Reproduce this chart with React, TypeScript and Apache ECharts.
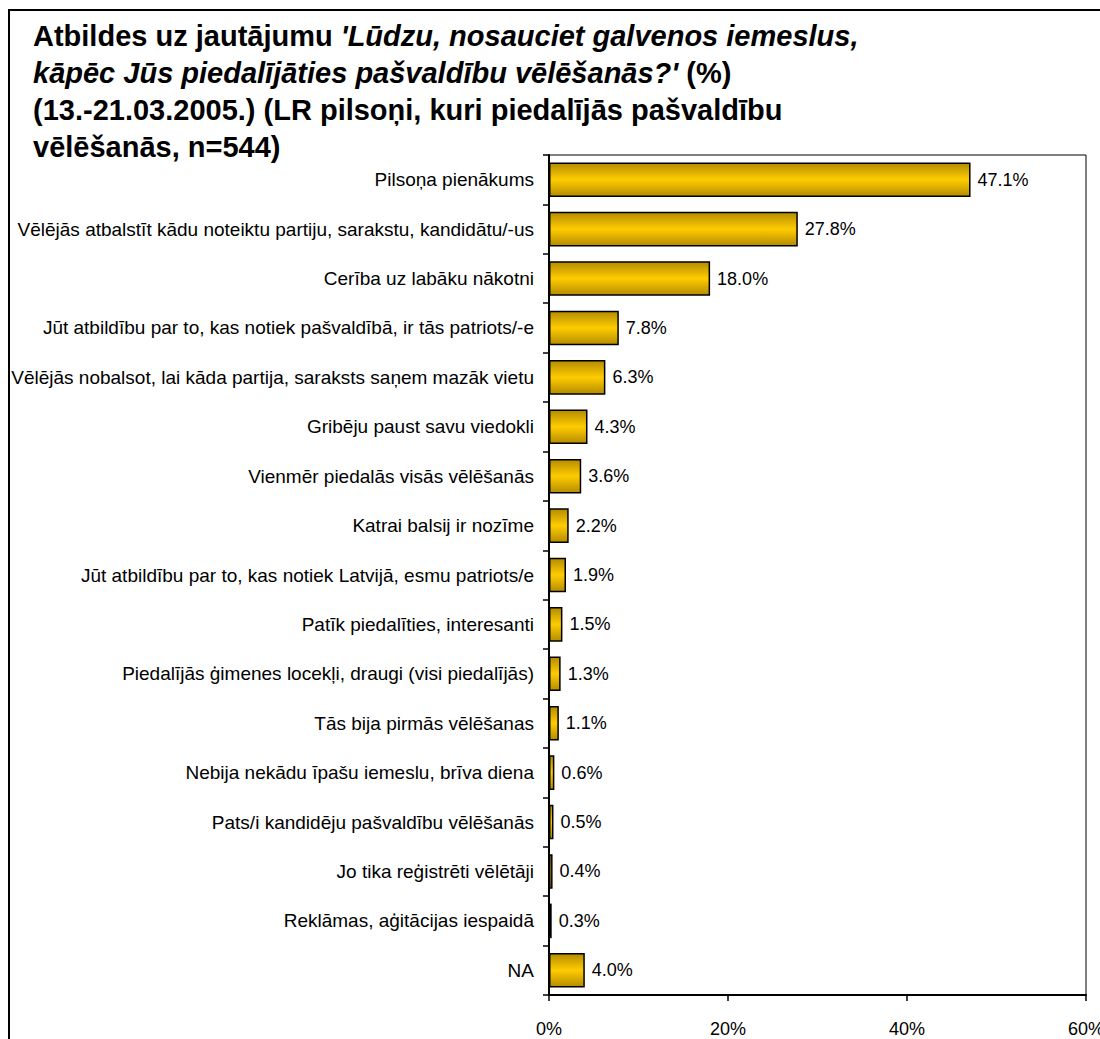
import React, { useEffect, useRef } from "react";
import * as echarts from "echarts";

const categories = [
  "Pilsoņa pienākums",
  "Vēlējās atbalstīt kādu noteiktu partiju, sarakstu, kandidātu/-us",
  "Cerība uz labāku nākotni",
  "Jūt atbildību par to, kas notiek pašvaldībā, ir tās patriots/-e",
  "Vēlējās nobalsot, lai kāda partija, saraksts saņem mazāk vietu",
  "Gribēju paust savu viedokli",
  "Vienmēr piedalās visās vēlēšanās",
  "Katrai balsij ir nozīme",
  "Jūt atbildību par to, kas notiek Latvijā, esmu patriots/e",
  "Patīk piedalīties, interesanti",
  "Piedalījās ģimenes locekļi, draugi (visi piedalījās)",
  "Tās bija pirmās vēlēšanas",
  "Nebija nekādu īpašu iemeslu, brīva diena",
  "Pats/i kandidēju pašvaldību vēlēšanās",
  "Jo tika reģistrēti vēlētāji",
  "Reklāmas, aģitācijas iespaidā",
  "NA",
];

const values = [47.1, 27.8, 18.0, 7.8, 6.3, 4.3, 3.6, 2.2, 1.9, 1.5, 1.3, 1.1, 0.6, 0.5, 0.4, 0.3, 4.0];

const xTicks = { min: 0, max: 60, interval: 20 };

export default function App() {
  const ref = useRef<HTMLDivElement>(null);
  useEffect(() => {
    document.body.style.margin = "0";
    document.body.style.overflow = "hidden";
    const chart = echarts.init(ref.current!, null, { renderer: "svg" });
    const font = "Liberation Sans, Arial, sans-serif";
    chart.setOption({
      animation: false,
      backgroundColor: "#fff",
      title: {
        left: 33,
        top: 17,
        padding: 0,
        text:
          "{b|Atbildes uz jautājumu }{bi|'Lūdzu, nosauciet galvenos iemeslus,}\n" +
          "{bi|kāpēc Jūs piedalījāties pašvaldību vēlēšanās?'}{b| (%)}\n" +
          "{b|(13.-21.03.2005.) (LR pilsoņi, kuri piedalījās pašvaldību}\n" +
          "{b|vēlēšanās, n=544)}",
        textStyle: {
          rich: {
            b: { fontFamily: font, fontSize: 29, fontWeight: "bold", color: "#000", lineHeight: 37 },
            bi: { fontFamily: font, fontSize: 29, fontWeight: "bold", fontStyle: "italic", color: "#000", lineHeight: 37 },
          },
        },
      },
      graphic: [
        {
          type: "rect",
          shape: { x: 9, y: 10, width: 1100, height: 1040 },
          style: { fill: "none", stroke: "#000", lineWidth: 2 },
          silent: true,
          z: 100,
        },
      ],
      grid: {
        left: 549,
        top: 155,
        right: 14,
        bottom: 44,
        outerBoundsMode: "none",
        containLabel: false,
        show: true,
        borderColor: "#000",
        borderWidth: 1,
        backgroundColor: "transparent",
      },
      xAxis: {
        type: "value",
        min: xTicks.min,
        max: xTicks.max,
        interval: xTicks.interval,
        splitLine: { show: false },
        axisLine: { show: true, lineStyle: { color: "#000", width: 2 } },
        axisTick: { show: true, length: 6, lineStyle: { color: "#000", width: 1.5 } },
        axisLabel: {
          formatter: "{value}%",
          color: "#000",
          fontFamily: font,
          fontSize: 18,
          margin: 25,
        },
      },
      yAxis: {
        type: "category",
        data: categories,
        inverse: true,
        axisLine: { show: true, lineStyle: { color: "#000", width: 2 } },
        axisTick: { show: true, length: 6, lineStyle: { color: "#000", width: 1.5 } },
        axisLabel: { color: "#000", fontFamily: font, fontSize: 19, margin: 15 },
      },
      series: [
        {
          type: "bar",
          data: values,
          barCategoryGap: "30%",
          itemStyle: {
            color: new echarts.graphic.LinearGradient(0, 0, 0, 1, [
              { offset: 0, color: "#B58C00" },
              { offset: 0.5, color: "#FFCC00" },
              { offset: 1, color: "#B58C00" },
            ]),
            borderColor: "#000",
            borderWidth: 1.5,
          },
          label: {
            show: true,
            position: "right",
            distance: 7,
            formatter: (p: any) => p.value.toFixed(1) + "%",
            color: "#000",
            fontFamily: font,
            fontSize: 18,
          },
        },
      ],
    });
    return () => chart.dispose();
  }, []);
  return <div ref={ref} style={{ width: 1100, height: 1039 }} />;
}
